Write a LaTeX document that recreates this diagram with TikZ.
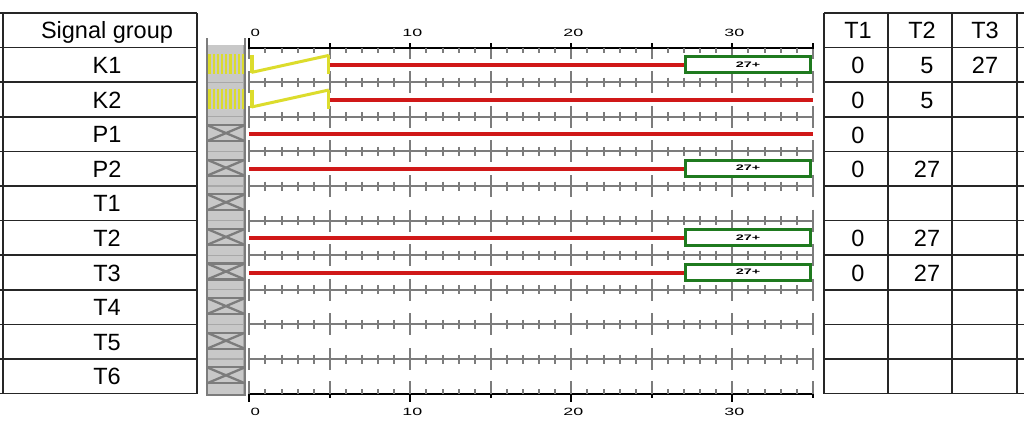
\documentclass[tikz,border=0pt]{standalone}
\usepackage{fontspec}
\setmainfont{Liberation Sans}
\definecolor{sigred}{HTML}{D01818}
\definecolor{siggreen}{HTML}{1F7A1F}
\definecolor{sigyellow}{HTML}{DCDC2C}
\definecolor{colgray}{HTML}{C8C8C8}
\definecolor{tickgray}{HTML}{7C7C7C}
\definecolor{faintgray}{HTML}{A8A8A8}
\begin{document}
\begin{tikzpicture}[x=1pt,y=-1pt,
  tabline/.style={black!85,line width=1.6pt},
  celltext/.style={font=\fontsize{23.5}{26}\selectfont,inner sep=0pt,anchor=base},
  axislabel/.style={inner sep=0pt,font=\fontsize{10.5}{10.5}\selectfont},
  graxis/.style={tickgray,line width=2pt},
  blaxis/.style={black,line width=2pt},
  redbar/.style={sigred,line width=4pt},
  greenbox/.style={draw=siggreen,fill=white,line width=3pt,inner sep=0pt,
    minimum height=16pt,minimum width=125pt,font=\fontsize{8}{8}\bfseries},
  ybar/.style={sigyellow,line width=3pt},
  hatchbar/.style={sigyellow,line width=2.3pt},
  xbox/.style={draw=tickgray,line width=2.3pt},
]
\useasboundingbox (0,0) rectangle (1024,431);
\fill[white] (0,0) rectangle (1024,431);

% ---------- left table ----------
\foreach \i in {0,...,11} {
  \draw[tabline] (0,{13+34.6*\i}) -- (197,{13+34.6*\i});
}
\draw[tabline] (3,13) -- (3,393.6);
\draw[tabline] (197,13) -- (197,393.6);
\foreach \n [count=\i from 0] in {Signal group,K1,K2,P1,P2,T1,T2,T3,T4,T5,T6} {
  \node[celltext] (lab\i) at (107,{13+34.6*(\i+0.5)+8.5}) {\n};
}

% ---------- gray column ----------
\fill[colgray] (207,45) rectangle (245,395);
\foreach \i in {2,...,10} {
  \draw[faintgray,line width=1.2pt] (207,{13+34.6*\i}) -- (245,{13+34.6*\i});
}
\draw[faintgray,line width=1pt] (243,45) -- (243,395);
\draw[tickgray,line width=1.5pt] (207,38) -- (207,395) -- (245,395) -- (245,38);
% yellow hatch for K1, K2
\foreach \i in {1,2} {
  \foreach \k in {0,...,8} {
    \draw[hatchbar] ({209.5+4.2*\k},{13+34.6*(\i+0.5)-11}) -- ++(0,20);
  }
}
% crossed boxes P1..T6
\foreach \i in {3,...,10} {
  \pgfmathsetmacro\c{13+34.6*(\i+0.5)-1}
  \draw[xbox] (207,\c-8) rectangle (245,\c+8);
  \draw[xbox] (207,\c-8) -- (245,\c+8) (207,\c+8) -- (245,\c-8);
}

% ---------- time axes ----------
\def\X#1{249.3+16.1*#1}
% intermediate gray axes
\foreach \i in {2,...,10} {
  \pgfmathsetmacro\yy{13+34.6*\i}
  \draw[graxis] ({\X{0}},\yy) -- ({\X{35}},\yy);
  \foreach \t in {0,...,35} {
    \pgfmathtruncatemacro\m{mod(\t,5)}
    \ifnum\m=0
      \draw[graxis] ({\X{\t}},\yy-11) -- ({\X{\t}},\yy+11);
    \else
      \draw[graxis] ({\X{\t}},\yy-4.5) -- ({\X{\t}},\yy+4.5);
    \fi
  }
}
% top axis
\draw[blaxis] ({\X{0}},47.6) -- ({\X{35}},47.6);
\foreach \t in {0,...,35} {
  \pgfmathtruncatemacro\m{mod(\t,5)}
  \ifnum\m=0
    \draw[graxis] ({\X{\t}},47.6) -- ({\X{\t}},58.6);
    \draw[blaxis] ({\X{\t}},43) -- ({\X{\t}},49);
  \else
    \draw[graxis] ({\X{\t}},47.6) -- ({\X{\t}},52.6);
  \fi
}
\draw[blaxis] ({\X{0}},38) -- ({\X{0}},48);
% bottom axis
\draw[blaxis] ({\X{0}},393.6) -- ({\X{35}},393.6);
\foreach \t in {0,...,35} {
  \pgfmathtruncatemacro\m{mod(\t,5)}
  \pgfmathtruncatemacro\mm{mod(\t,10)}
  \ifnum\m=0
    \draw[graxis] ({\X{\t}},381) -- ({\X{\t}},393.6);
    \ifnum\mm=0
      \draw[blaxis] ({\X{\t}},393.6) -- ({\X{\t}},402);
    \else
      \draw[blaxis] ({\X{\t}},393.6) -- ({\X{\t}},398);
    \fi
  \else
    \draw[graxis] ({\X{\t}},389.1) -- ({\X{\t}},393.6);
  \fi
}
% axis labels
\node[axislabel,anchor=south west] (tl0) at ({\X{0}+1},37) {\scalebox{1.6}[1]{0}};
\foreach \t in {10,20,30} {
  \node[axislabel,anchor=south] (tl\t) at ({\X{\t}+2},37) {\scalebox{1.7}[1]{\t}};
}
\node[axislabel,anchor=north west] (bl0) at ({\X{0}+1},408) {\scalebox{1.6}[1]{0}};
\foreach \t in {10,20,30} {
  \node[axislabel,anchor=north] (bl\t) at ({\X{\t}+2},408) {\scalebox{1.7}[1]{\t}};
}

% ---------- signal bars ----------
% K1, K2 yellow ramps
\foreach \i in {1,2} {
  \pgfmathsetmacro\r{13+34.6*(\i+0.5)}
  \draw[sigyellow,line width=4pt] (251.5,\r-10) -- (251.5,\r+8);
  \draw[ybar,line join=miter] (251.5,\r+7.5) -- ({\X{5}-1},\r-9.5);
  \draw[ybar] ({\X{5}-1},\r-10) -- ({\X{5}-1},\r+9);
}
% K1
\pgfmathsetmacro\r{13+34.6*1.5}
\draw[redbar] ({\X{5}},\r) -- ({\X{27}},\r);
\node[greenbox,anchor=west] (g1) at ({\X{27}},\r-0.5) {\scalebox{1.8}[1]{27+}};
% K2
\pgfmathsetmacro\r{13+34.6*2.5}
\draw[redbar] ({\X{5}},\r) -- ({\X{35}},\r);
% P1
\pgfmathsetmacro\r{13+34.6*3.5}
\draw[redbar] ({\X{0}},\r) -- ({\X{35}},\r);
% P2, T2, T3
\foreach \i in {4,6,7} {
  \pgfmathsetmacro\r{13+34.6*(\i+0.5)}
  \draw[redbar] ({\X{0}},\r) -- ({\X{27}},\r);
  \node[greenbox,anchor=west] (g\i) at ({\X{27}},\r-0.5) {\scalebox{1.8}[1]{27+}};
}

% ---------- right table ----------
\foreach \i in {0,...,11} {
  \draw[tabline] (824,{13+34.6*\i}) -- (1024,{13+34.6*\i});
}
\foreach \x in {824,888,952,1017} {
  \draw[tabline] (\x,13) -- (\x,393.6);
}
\node[celltext] (h1) at (858,{13+34.6*0.5+8.5}) {T1};
\node[celltext] (h2) at (922,{13+34.6*0.5+8.5}) {T2};
\node[celltext] (h3) at (985,{13+34.6*0.5+8.5}) {T3};
% values
\foreach \i/\a/\b/\c in {1/0/5/27,2/0/5/,3/0//,4/0/27/,6/0/27/,7/0/27/} {
  \node[celltext] (v\i a) at (858,{13+34.6*(\i+0.5)+9}) {\a};
  \node[celltext] (v\i b) at (927,{13+34.6*(\i+0.5)+9}) {\b};
  \node[celltext] (v\i c) at (985,{13+34.6*(\i+0.5)+9}) {\c};
}
\end{tikzpicture}
\end{document}
